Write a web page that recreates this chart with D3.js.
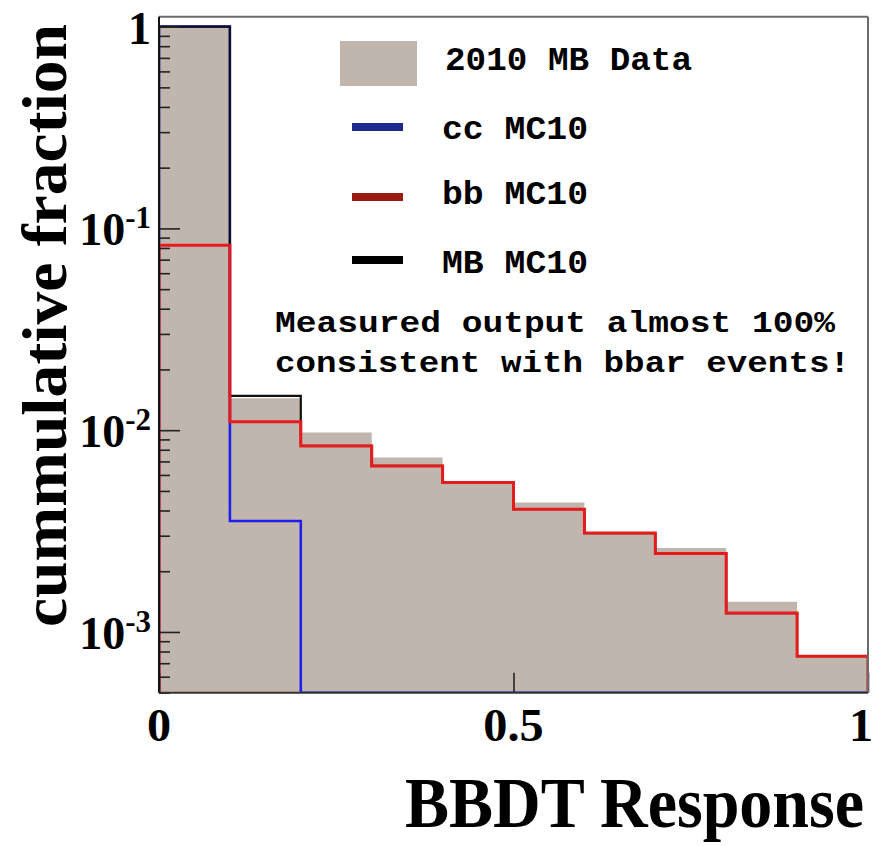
<!DOCTYPE html>
<html>
<head>
<meta charset="utf-8">
<script src="https://cdn.jsdelivr.net/npm/d3@7"></script>
<style>
  body { margin: 0; background: #fff; }
  svg { display: block; }
</style>
</head>
<body>
<div id="chart"></div>
<script>
// bin edges of the BBDT response
var binEdges = [0, 0.1, 0.2, 0.3, 0.4, 0.5, 0.6, 0.7, 0.8, 0.9, 1.0];
// cumulative fractions per bin
var data2010MB = [1.0, 0.0144, 0.00975, 0.00732, 0.0056, 0.00438, 0.0031, 0.00261, 0.00141, 0.00076];
var ccMC10 = [1.0, 0.00355, 0, 0, 0, 0, 0, 0, 0, 0];
var bbMC10 = [0.0826, 0.0110, 0.00836, 0.00665, 0.0055, 0.00406, 0.00309, 0.00245, 0.00124, 0.000758];
var mbMC10 = [1.0, 0.0148, 0.00836, 0.00665, 0.0055, 0.00406, 0.00309, 0.00245, 0.00124, 0.000758];
var xTickValues = [0, 0.5, 1];
var xTickLabels = ["0", "0.5", "1"];
var yMajorTicks = [1, 0.1, 0.01, 0.001];
var yTickExponents = ["", "-1", "-2", "-3"];
var legendLabels = ["2010 MB Data", "cc MC10", "bb MC10", "MB MC10"];
var noteLines = ["Measured output almost 100%", "consistent with bbar events!"];

var W = 876, H = 846;
var padL = 159, padR = 868, padT = 16.7, padB = 692.7;
var yMin = 5e-4, yMax = 1.12;

var svg = d3.select("#chart").append("svg").attr("width", W).attr("height", H);

var x = d3.scaleLinear().domain([0, 1]).range([padL, padR]);
var y = d3.scaleLog().domain([yMin, yMax]).range([padB, padT]).clamp(true);

svg.append("clipPath").attr("id", "plotClip")
    .append("rect").attr("x", padL).attr("y", padT).attr("width", padR - padL).attr("height", padB - padT);

var plot = svg.append("g").attr("clip-path", "url(#plotClip)");

function stepPoints(values) {
    var pts = [[0, yMin]];
    values.forEach(function (v, i) {
        var vv = v > 0 ? v : yMin;
        pts.push([binEdges[i], vv]);
        pts.push([binEdges[i + 1], vv]);
    });
    pts.push([1, yMin]);
    return pts;
}

// grey data histogram, one filled area
var area = d3.area()
    .x(function (p) { return x(p[0]); })
    .y0(padB)
    .y1(function (p) { return y(p[1]); });
plot.append("path").attr("d", area(stepPoints(data2010MB))).attr("fill", "#c0b6ad");

var line = d3.line().x(function (p) { return x(p[0]); }).y(function (p) { return y(p[1]); });

var series = [
    {vals: ccMC10, color: "#1f1ff2", w: 2.6},
    {vals: mbMC10, color: "#111111", w: 2.2},
    {vals: bbMC10, color: "#e61c1c", w: 3}
];
series.forEach(function (s) {
    plot.append("path").attr("d", line(stepPoints(s.vals)))
        .attr("fill", "none").attr("stroke", s.color).attr("stroke-width", s.w)
        .attr("stroke-linejoin", "miter");
});

// ticks
var yMinor = [];
[1e-4, 1e-3, 1e-2, 1e-1].forEach(function (dec) {
    for (var k = 2; k <= 9; k++) {
        var v = k * dec;
        if (v >= yMin && v <= yMax) yMinor.push(v);
    }
});
function styleTicks(g) {
    g.select(".domain").remove();
    g.selectAll("line").attr("stroke", "#222").attr("stroke-width", 1.6);
}
svg.append("g").attr("transform", "translate(" + padL + ",0)")
    .call(d3.axisRight(y).tickValues(yMinor).tickSize(11).tickFormat(""))
    .call(styleTicks);
svg.append("g").attr("transform", "translate(" + padL + ",0)")
    .call(d3.axisRight(y).tickValues(yMajorTicks).tickSize(21).tickFormat(""))
    .call(styleTicks);
svg.append("g").attr("transform", "translate(0," + padB + ")")
    .call(d3.axisTop(x).tickValues(xTickValues).tickSize(20).tickFormat(""))
    .call(styleTicks);

// frame
svg.append("line").attr("x1", padL).attr("x2", padR).attr("y1", padT).attr("y2", padT).attr("stroke", "#6b6b6b").attr("stroke-width", 2);
svg.append("line").attr("x1", padR).attr("x2", padR).attr("y1", padT).attr("y2", padB).attr("stroke", "#6b6b6b").attr("stroke-width", 2);
svg.append("line").attr("x1", padL).attr("x2", padL).attr("y1", padT).attr("y2", padB).attr("stroke", "#111").attr("stroke-width", 2);
svg.append("line").attr("x1", padL).attr("x2", padR).attr("y1", padB).attr("y2", padB).attr("stroke", "#333").attr("stroke-width", 2);

var serif = "'Liberation Serif', 'DejaVu Serif', serif";
var mono = "'Liberation Mono', 'DejaVu Sans Mono', monospace";

// y tick labels
yMajorTicks.forEach(function (v, i) {
    var t = svg.append("text")
        .attr("x", 151).attr("y", y(v) + 17)
        .attr("text-anchor", "end")
        .attr("font-family", serif).attr("font-weight", "bold").attr("font-size", 46)
        .text(yTickExponents[i] === "" ? "1" : "10");
    if (yTickExponents[i] !== "") {
        t.append("tspan").attr("dy", -17).attr("font-size", 31).text(yTickExponents[i]);
    }
});

// x tick labels
xTickValues.forEach(function (v, i) {
    svg.append("text")
        .attr("transform", "translate(" + Math.min(x(v), 861) + ",741) scale(1.05,1)")
        .attr("text-anchor", "middle")
        .attr("font-family", serif).attr("font-weight", "bold").attr("font-size", 46)
        .text(xTickLabels[i]);
});

// axis titles
svg.append("text")
    .attr("x", 405).attr("y", 827)
    .attr("font-family", serif).attr("font-weight", "bold").attr("font-size", 72)
    .attr("textLength", 459).attr("lengthAdjust", "spacingAndGlyphs")
    .text("BBDT Response");
svg.append("text")
    .attr("transform", "translate(66,627) rotate(-90)")
    .attr("font-family", serif).attr("font-weight", "bold").attr("font-size", 63)
    .attr("textLength", 603).attr("lengthAdjust", "spacingAndGlyphs")
    .text("cummulative fraction");

// legend
svg.append("rect").attr("x", 340).attr("y", 41).attr("width", 77).attr("height", 45).attr("fill", "#c0b6ad");
var swatches = [
    {y: 127, color: "#1b2a8c"},
    {y: 197, color: "#9a1a14"},
    {y: 260, color: "#000000"}
];
swatches.forEach(function (s) {
    svg.append("rect").attr("x", 352).attr("y", s.y - 4).attr("width", 51).attr("height", 8).attr("fill", s.color);
});
var legendText = [
    {y: 70, x: 445, len: 247},
    {y: 139, x: 442, len: 146},
    {y: 204, x: 442, len: 146},
    {y: 273, x: 442, len: 146}
];
legendLabels.forEach(function (lab, i) {
    svg.append("text")
        .attr("x", legendText[i].x).attr("y", legendText[i].y)
        .attr("font-family", mono).attr("font-weight", "bold").attr("font-size", 33)
        .attr("textLength", legendText[i].len).attr("lengthAdjust", "spacingAndGlyphs")
        .text(lab);
});

// annotation
var noteText = [
    {y: 332, len: 560},
    {y: 372, len: 575}
];
noteLines.forEach(function (txt, i) {
    svg.append("text")
        .attr("x", 275).attr("y", noteText[i].y)
        .attr("font-family", mono).attr("font-weight", "bold").attr("font-size", 29)
        .attr("textLength", noteText[i].len).attr("lengthAdjust", "spacingAndGlyphs")
        .text(txt);
});
</script>
</body>
</html>
